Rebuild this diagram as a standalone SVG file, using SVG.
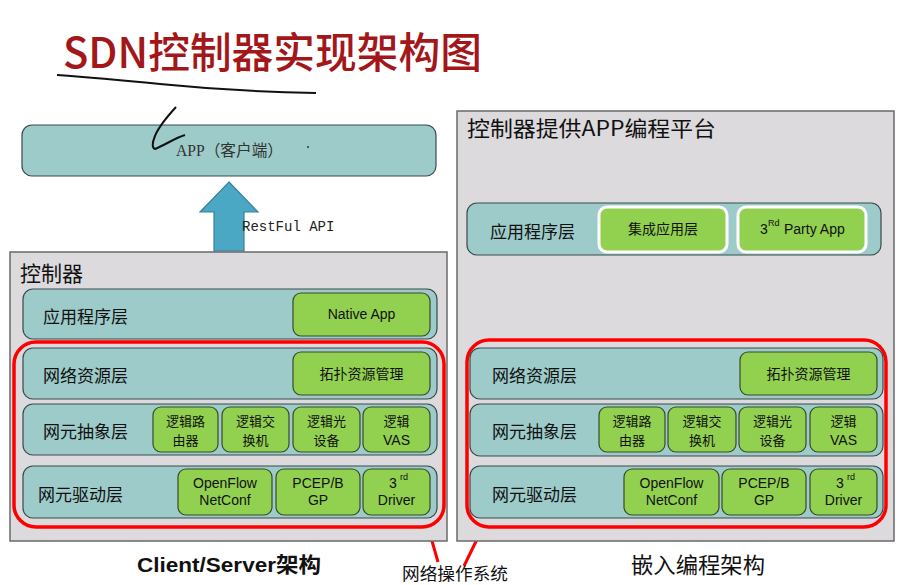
<svg xmlns="http://www.w3.org/2000/svg" width="899" height="585" viewBox="0 0 899 585">
<style>
.cjk{font-family:"Noto Sans CJK SC","Noto Sans",sans-serif}
.sans{font-family:"Liberation Sans","Noto Sans CJK SC",sans-serif}
.serif{font-family:"Liberation Serif","Noto Sans CJK SC",serif}
.mono{font-family:"Liberation Mono","Noto Sans CJK SC",monospace}
.panel{fill:#dcdadd;stroke:#6a6a6a;stroke-width:1.5}
.row{fill:#9dcbca;stroke:#3a4a4a;stroke-width:1.2}
.box{fill:#92d050;stroke:#3a4a2a;stroke-width:1.2}
.wbox{fill:#92d050;stroke:#ffffff;stroke-width:3}
.red{fill:none;stroke:#ff0000;stroke-width:3.5}
.arrow{fill:#4aa8c4;stroke:#3a8098;stroke-width:1.2}
.lbl{font-size:17px;fill:#111}
.bt{font-size:14px;fill:#111;text-anchor:middle}
.bt2{font-size:13px;fill:#111;text-anchor:middle}
</style>
<rect width="899" height="585" fill="#ffffff"/>

<g id="app-client">
<rect x="22" y="125" width="414" height="51" rx="10" class="row"/>
<text x="176" y="156" class="serif" font-size="16" fill="#333" textLength="107" lengthAdjust="spacingAndGlyphs">APP（客户端）</text>
<circle cx="308" cy="147" r="1" fill="#333"/>
</g>

<g id="title">
<text x="63" y="68" class="cjk" font-size="42" font-weight="500" fill="#a3161a" textLength="419" lengthAdjust="spacingAndGlyphs">SDN控制器实现架构图</text>
<path d="M57,75 C100,78 130,81 160,84 C200,88 250,92 316,93" fill="none" stroke="#111" stroke-width="2"/>
<path d="M176,107 C166,118 158,128 155,136 C152,143 152,148 155,149 C165,145 175,138 185,135" fill="none" stroke="#111" stroke-width="2"/>
</g>

<g id="connectors">
<path d="M229,182 L258,212 L244,212 L244,251 L214,251 L214,212 L200,212 Z" class="arrow"/>
<text x="242" y="231" class="mono" font-size="14" fill="#222">RestFul API</text>
<path d="M678,277 L708,307 L693,307 L693,340 L664,340 L664,307 L649,307 Z" class="arrow"/>
<text x="710" y="327" class="mono" font-size="14" fill="#222">内部API</text>
<line x1="428" y1="527" x2="438" y2="562" stroke="#ff0000" stroke-width="3"/>
<line x1="483" y1="527" x2="464" y2="566" stroke="#ff0000" stroke-width="3"/>
</g>

<g id="left-controller">
<rect x="10" y="252" width="437" height="289" class="panel"/>
<text x="20" y="281" class="cjk" font-size="21" fill="#111">控制器</text>
<g id="l-app-layer">
<rect x="23" y="289" width="414" height="50" rx="10" class="row"/>
<text x="43" y="323" class="cjk lbl">应用程序层</text>
<rect x="293" y="293" width="137" height="43" rx="8" class="box"/>
<text x="361.5" y="319" class="sans bt">Native App</text>
</g>
<rect x="14" y="342" width="430" height="185" rx="22" class="red"/>
<g id="l-net-res">
<rect x="23" y="348" width="414" height="51" rx="10" class="row"/>
<text x="43" y="382" class="cjk lbl">网络资源层</text>
<rect x="293" y="352" width="137" height="43" rx="8" class="box"/>
<text x="361.5" y="379" class="cjk bt">拓扑资源管理</text>
</g>
<g id="l-ne-abs">
<rect x="23" y="404" width="414" height="51" rx="10" class="row"/>
<text x="43" y="438" class="cjk lbl">网元抽象层</text>
<rect x="153" y="407" width="65" height="45" rx="8" class="box"/>
<text x="185.5" y="426" class="cjk bt2">逻辑路</text><text x="185.5" y="445" class="cjk bt2">由器</text>
<rect x="222" y="407" width="67" height="45" rx="8" class="box"/>
<text x="255.5" y="426" class="cjk bt2">逻辑交</text><text x="255.5" y="445" class="cjk bt2">换机</text>
<rect x="293" y="407" width="67" height="45" rx="8" class="box"/>
<text x="326.5" y="426" class="cjk bt2">逻辑光</text><text x="326.5" y="445" class="cjk bt2">设备</text>
<rect x="363" y="407" width="67" height="45" rx="8" class="box"/>
<text x="396.5" y="426" class="cjk bt2">逻辑</text><text x="396.5" y="445" class="sans bt">VAS</text>
</g>
<g id="l-ne-drv">
<rect x="23" y="466" width="414" height="52" rx="10" class="row"/>
<text x="38" y="501" class="cjk lbl">网元驱动层</text>
<rect x="178" y="469" width="94" height="46" rx="8" class="box"/>
<text x="225" y="488" class="sans bt">OpenFlow</text><text x="225" y="505" class="sans bt">NetConf</text>
<rect x="276" y="469" width="84" height="46" rx="8" class="box"/>
<text x="318" y="488" class="sans bt">PCEP/B</text><text x="318" y="505" class="sans bt">GP</text>
<rect x="363" y="469" width="67" height="46" rx="8" class="box"/>
<text x="393" y="488" class="sans bt">3</text><text x="400" y="480" class="sans" font-size="9" fill="#111">rd</text><text x="396.5" y="505" class="sans bt">Driver</text>
</g>
</g>

<g id="right-controller">
<rect x="457" y="111" width="437" height="430" class="panel"/>
<text x="467" y="136" class="cjk" font-size="21" fill="#111" textLength="249" lengthAdjust="spacingAndGlyphs">控制器提供APP编程平台</text>
<g id="r-app-layer">
<rect x="467" y="203" width="414" height="52" rx="10" class="row"/>
<text x="490" y="238" class="cjk lbl">应用程序层</text>
<rect x="599" y="207" width="128" height="45" rx="8" class="wbox"/>
<text x="663" y="234" class="cjk bt">集成应用层</text>
<rect x="738" y="207" width="128" height="45" rx="8" class="wbox"/>
<text x="760" y="234" class="sans" font-size="14" fill="#111">3</text>
<text x="768" y="226" class="sans" font-size="9" fill="#111">Rd</text>
<text x="784" y="234" class="sans" font-size="14" fill="#111">Party App</text>
</g>
<rect x="467" y="340" width="419" height="187" rx="22" class="red"/>
<g id="r-net-res">
<rect x="470" y="348" width="413" height="51" rx="10" class="row"/>
<text x="492" y="382" class="cjk lbl">网络资源层</text>
<rect x="740" y="352" width="137" height="43" rx="8" class="box"/>
<text x="808.5" y="379" class="cjk bt">拓扑资源管理</text>
</g>
<g id="r-ne-abs">
<rect x="470" y="404" width="413" height="52" rx="10" class="row"/>
<text x="492" y="438" class="cjk lbl">网元抽象层</text>
<rect x="599" y="407" width="66" height="45" rx="8" class="box"/>
<text x="632" y="426" class="cjk bt2">逻辑路</text><text x="632" y="445" class="cjk bt2">由器</text>
<rect x="668" y="407" width="68" height="45" rx="8" class="box"/>
<text x="702" y="426" class="cjk bt2">逻辑交</text><text x="702" y="445" class="cjk bt2">换机</text>
<rect x="739" y="407" width="67" height="45" rx="8" class="box"/>
<text x="772.5" y="426" class="cjk bt2">逻辑光</text><text x="772.5" y="445" class="cjk bt2">设备</text>
<rect x="810" y="407" width="67" height="45" rx="8" class="box"/>
<text x="843.5" y="426" class="cjk bt2">逻辑</text><text x="843.5" y="445" class="sans bt">VAS</text>
</g>
<g id="r-ne-drv">
<rect x="470" y="466" width="413" height="52" rx="10" class="row"/>
<text x="492" y="501" class="cjk lbl">网元驱动层</text>
<rect x="624" y="469" width="95" height="46" rx="8" class="box"/>
<text x="671.5" y="488" class="sans bt">OpenFlow</text><text x="671.5" y="505" class="sans bt">NetConf</text>
<rect x="722" y="469" width="84" height="46" rx="8" class="box"/>
<text x="764" y="488" class="sans bt">PCEP/B</text><text x="764" y="505" class="sans bt">GP</text>
<rect x="810" y="469" width="67" height="46" rx="8" class="box"/>
<text x="840" y="488" class="sans bt">3</text><text x="847" y="480" class="sans" font-size="9" fill="#111">rd</text><text x="843.5" y="505" class="sans bt">Driver</text>
</g>
</g>

<g id="captions">
<text x="137" y="572" class="sans" font-size="21" font-weight="bold" fill="#111" textLength="184" lengthAdjust="spacingAndGlyphs">Client/Server架构</text>
<text x="402" y="580" class="cjk" font-size="17" fill="#111" textLength="106" lengthAdjust="spacingAndGlyphs">网络操作系统</text>
<text x="631" y="573" class="cjk" font-size="22" fill="#111" textLength="134" lengthAdjust="spacingAndGlyphs">嵌入编程架构</text>
</g>
</svg>
